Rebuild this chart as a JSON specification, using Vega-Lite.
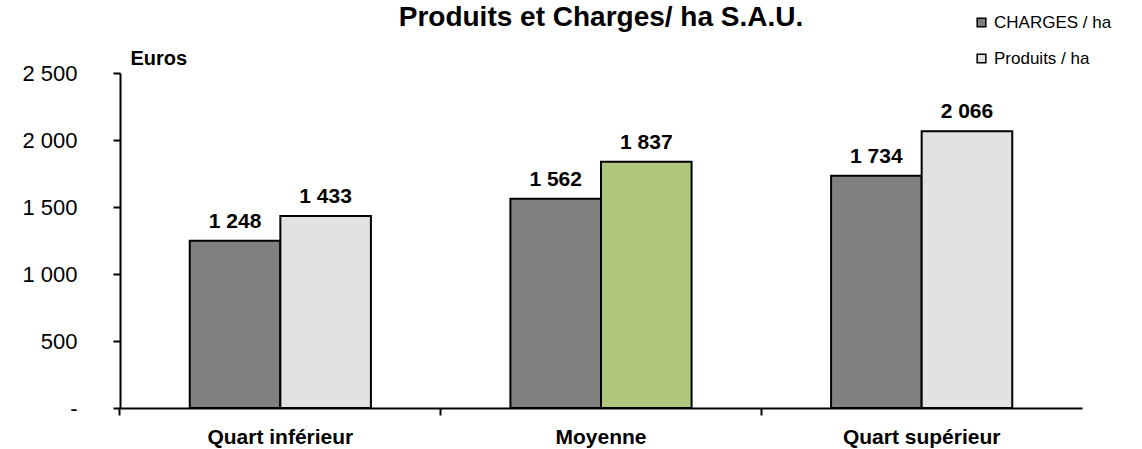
{
  "$schema": "https://vega.github.io/schema/vega-lite/v6.json",
  "width": 962,
  "height": 335,
  "autosize": {"type": "none"},
  "padding": {"left": 120, "top": 73, "right": 60, "bottom": 41},
  "background": "white",
  "title": {
    "text": "Produits et Charges/ ha S.A.U.",
    "font": "Liberation Sans",
    "fontSize": 28,
    "fontWeight": "bold",
    "color": "black",
    "anchor": "middle",
    "baseline": "alphabetic",
    "offset": 0,
    "dy": 40
  },
  "data": {
    "values": [
      {"groupe": "Quart inférieur", "serie": "CHARGES / ha", "valeur": 1248},
      {"groupe": "Quart inférieur", "serie": "Produits / ha", "valeur": 1433},
      {"groupe": "Moyenne", "serie": "CHARGES / ha", "valeur": 1562},
      {"groupe": "Moyenne", "serie": "Produits / ha", "valeur": 1837},
      {"groupe": "Quart supérieur", "serie": "CHARGES / ha", "valeur": 1734},
      {"groupe": "Quart supérieur", "serie": "Produits / ha", "valeur": 2066}
    ]
  },
  "encoding": {
    "x": {
      "field": "groupe",
      "type": "nominal",
      "sort": ["Quart inférieur", "Moyenne", "Quart supérieur"],
      "scale": {"paddingInner": 0.435, "paddingOuter": 0.2175},
      "title": null
    },
    "xOffset": {"field": "serie", "type": "nominal", "sort": ["CHARGES / ha", "Produits / ha"], "scale": {"paddingInner": 0, "paddingOuter": 0}},
    "y": {
      "field": "valeur",
      "type": "quantitative",
      "scale": {"domain": [0, 2500], "nice": false},
      "axis": {
        "values": [0, 500, 1000, 1500, 2000, 2500],
        "labelExpr": "datum.value == 0 ? '-' : replace(format(datum.value, ','), ',', ' ')",
        "grid": false,
        "domainColor": "black",
        "domainWidth": 2,
        "tickColor": "black",
        "tickWidth": 2,
        "tickSize": 7,
        "labelFont": "Liberation Sans",
        "labelFontSize": 22,
        "labelColor": "black",
        "labelPadding": 36,
        "title": "Euros",
        "titleFont": "Liberation Sans",
        "titleFontSize": 20,
        "titleFontWeight": "bold",
        "titleColor": "black",
        "titleAngle": 0,
        "titleAlign": "left",
        "titleBaseline": "middle",
        "titleX": 10,
        "titleY": -15
      }
    }
  },
  "layer": [
    {
      "mark": {"type": "bar", "stroke": "black", "strokeWidth": 2},
      "encoding": {
        "x": {
          "field": "groupe",
          "type": "nominal",
          "sort": ["Quart inférieur", "Moyenne", "Quart supérieur"],
          "axis": {
            "bandPosition": -0.385,
            "labels": false,
            "domainColor": "black",
            "domainWidth": 2,
            "tickColor": "black",
            "tickWidth": 2,
            "tickSize": 7,
            "orient": "bottom"
          }
        },
        "fill": {
          "condition": {"test": "datum.groupe == 'Moyenne' && datum.serie == 'Produits / ha'", "value": "#aec77c"},
          "field": "serie",
          "type": "nominal",
          "scale": {"domain": ["CHARGES / ha", "Produits / ha"], "range": ["#808080", "#e2e2e2"]},
          "legend": {
            "title": null,
            "orient": "none",
            "legendX": 853,
            "legendY": -59,
            "symbolType": "square",
            "symbolSize": 75,
            "symbolStrokeColor": "black",
            "symbolStrokeWidth": 1.5,
            "labelFont": "Liberation Sans",
            "labelFontSize": 17,
            "labelColor": "black",
            "labelOffset": 4,
            "rowPadding": 18,
            "padding": 0
          }
        }
      }
    },
    {
      "mark": {"type": "text", "font": "Liberation Sans", "fontSize": 21, "fontWeight": "bold", "baseline": "alphabetic", "dy": -13, "color": "black"},
      "encoding": {
        "x": {
          "field": "groupe",
          "type": "nominal",
          "sort": ["Quart inférieur", "Moyenne", "Quart supérieur"],
          "axis": {
            "labelFont": "Liberation Sans",
            "labelFontSize": 21,
            "labelFontWeight": "bold",
            "labelColor": "black",
            "labelAngle": 0,
            "labelPadding": 18,
            "ticks": false,
            "domain": false,
            "orient": "bottom"
          }
        },
        "text": {"field": "valeur", "type": "quantitative", "format": ","}
      }
    }
  ],
  "resolve": {"axis": {"x": "independent"}},
  "config": {"view": {"stroke": null}, "locale": {"number": {"decimal": ",", "thousands": " ", "grouping": [3], "currency": ["", " €"]}}}
}
